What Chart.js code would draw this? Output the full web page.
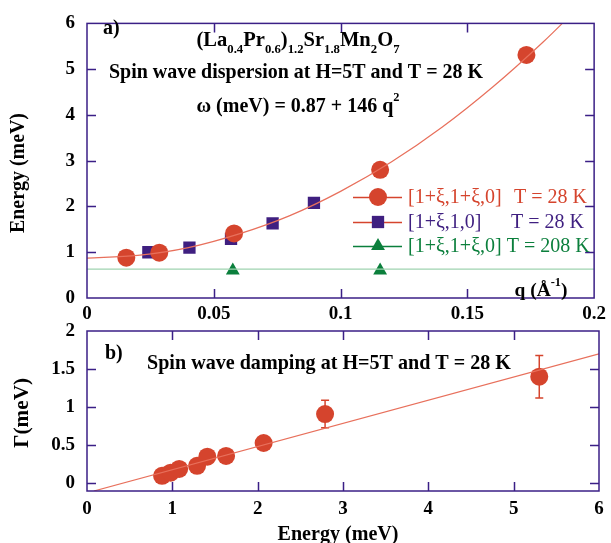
<!DOCTYPE html>
<html>
<head>
<meta charset="utf-8">
<script src="https://cdn.jsdelivr.net/npm/chart.js@4.4.1/dist/chart.umd.min.js"></script>
<style>
  html, body { margin: 0; padding: 0; background: #fff; }
  #wrap { position: relative; width: 611px; height: 543px; }
  canvas { position: absolute; left: 0; top: 0; }
</style>
</head>
<body>
<div id="wrap">
  <canvas id="damping" width="611" height="543" style="width:611px;height:543px"></canvas>
  <canvas id="dispersion" width="611" height="543" style="width:611px;height:543px"></canvas>
</div>
<script>
// panel a) dispersion
const qTicks = [0, 0.05, 0.1, 0.15, 0.2]
const qTickLabels = ['0', '0.05', '0.1', '0.15', '0.2']
const eTicks = [0, 1, 2, 3, 4, 5, 6]

const qDiag28 = [0.0155, 0.0285, 0.058, 0.1156, 0.1733]
const eDiag28 = [0.88, 0.99, 1.41, 2.80, 5.31]
const qAxis28 = [0.0242, 0.0404, 0.0568, 0.0732, 0.0895]
const eAxis28 = [1.00, 1.10, 1.29, 1.63, 2.08]
const qDiag208 = [0.0575, 0.1156]
const eDiag208 = [0.60, 0.60]

// fit curve
const qFit = [0, 0.02, 0.04, 0.06, 0.08, 0.10, 0.12, 0.14, 0.16, 0.18, 0.19]
const eFit = [0.87, 0.93, 1.10, 1.40, 1.80, 2.33, 2.97, 3.73, 4.61, 5.60, 6.14]
const qFlat = [0, 0.2]
const eFlat = [0.63, 0.63]

// panel b) damping
const enTicks = [0, 1, 2, 3, 4, 5, 6]
const gTicks = [0, 0.5, 1, 1.5, 2]
const energy = [0.88, 0.98, 1.08, 1.29, 1.41, 1.63, 2.07, 2.79, 5.30]
const gamma = [0.10, 0.14, 0.19, 0.23, 0.35, 0.36, 0.53, 0.91, 1.40]
const gammaLo = [null, null, null, null, null, null, null, 0.73, 1.12]
const gammaHi = [null, null, null, null, null, null, null, 1.09, 1.68]
const lineE = [0.08, 6]
const lineG = [-0.1, 1.70]

const red = '#d5442d'
const purple = '#3f1f80'
const green = '#0b7f3c'
const axisColor = '#3b1f86'
const serif = "'Liberation Serif', 'DejaVu Serif', serif"

const pts = (xs, ys) => xs.map((x, i) => ({ x, y: ys[i] }))

function fixedTicks(values) {
    return scale => { scale.ticks = values.map(v => ({ value: v })) }
}

const framePlugin = {
    id: 'frame',
    afterDraw(chart) {
        const { ctx, chartArea: a, scales: { x, y } } = chart
        ctx.save()
        ctx.strokeStyle = axisColor
        ctx.lineWidth = 1.5
        ctx.strokeRect(a.left, a.top, a.right - a.left, a.bottom - a.top)
        ctx.beginPath()
        x.ticks.forEach(t => {
            const px = Math.round(x.getPixelForValue(t.value)) + 0.5
            if (px < a.left + 2 || px > a.right - 2) return
            ctx.moveTo(px, a.bottom); ctx.lineTo(px, a.bottom - 9)
            ctx.moveTo(px, a.top); ctx.lineTo(px, a.top + 9)
        })
        y.ticks.forEach(t => {
            const py = Math.round(y.getPixelForValue(t.value)) + 0.5
            if (py < a.top + 2 || py > a.bottom - 2) return
            ctx.moveTo(a.left, py); ctx.lineTo(a.left + 9, py)
            ctx.moveTo(a.right, py); ctx.lineTo(a.right - 9, py)
        })
        ctx.stroke()
        ctx.restore()
    }
}

// text made of normal / sub / sup parts, centred on cx, squeezed to width w
function richText(ctx, parts, cx, cy, size, w) {
    const fontFor = k => 'bold ' + (k === 'n' ? size : Math.round(size * 0.62)) + 'px ' + serif
    let total = 0
    parts.forEach(([s, k]) => { ctx.font = fontFor(k); total += ctx.measureText(s).width })
    const k = w ? w / total : 1
    ctx.save()
    ctx.translate(cx, cy)
    ctx.scale(k, 1)
    let x = -total / 2
    parts.forEach(([s, kind]) => {
        ctx.font = fontFor(kind)
        const dy = kind === 'sub' ? size * 0.4 : kind === 'sup' ? -size * 0.45 : 0
        ctx.fillText(s, x, dy)
        x += ctx.measureText(s).width
    })
    ctx.restore()
}

function marker(ctx, style, x, y, r, color) {
    ctx.fillStyle = color
    ctx.beginPath()
    if (style === 'circle') {
        ctx.arc(x, y, r, 0, Math.PI * 2)
    } else if (style === 'rect') {
        const s = r * Math.SQRT1_2
        ctx.rect(x - s, y - s, 2 * s, 2 * s)
    } else {
        ctx.moveTo(x, y - r)
        ctx.lineTo(x + r * 0.866, y + r * 0.5)
        ctx.lineTo(x - r * 0.866, y + r * 0.5)
        ctx.closePath()
    }
    ctx.fill()
}

const dispersionText = {
    id: 'dispersionText',
    afterDraw(chart) {
        const ctx = chart.ctx
        ctx.save()
        ctx.fillStyle = '#000'
        ctx.textBaseline = 'middle'
        ctx.textAlign = 'left'
        ctx.font = 'bold 20px ' + serif
        ctx.fillText('a)', 103, 29)
        richText(ctx, [['(La', 'n'], ['0.4', 'sub'], ['Pr', 'n'], ['0.6', 'sub'], [')', 'n'], ['1.2', 'sub'],
            ['Sr', 'n'], ['1.8', 'sub'], ['Mn', 'n'], ['2', 'sub'], ['O', 'n'], ['7', 'sub']], 298, 41, 21, 203)
        richText(ctx, [['Spin wave dispersion at H=5T and T = 28 K', 'n']], 296, 73, 21, 374)
        richText(ctx, [['\u03c9 (meV) = 0.87 + 146 q', 'n'], ['2', 'sup']], 298, 107, 21, 203)
        richText(ctx, [['q (\u00c5', 'n'], ['-1', 'sup'], [')', 'n']], 541, 291, 19, 53)

        // y axis title
        ctx.save()
        ctx.translate(19, 173)
        ctx.rotate(-Math.PI / 2)
        richText(ctx, [['Energy (meV)', 'n']], 0, 0, 20, 120)
        ctx.restore()

        // legend
        const rows = [
            { style: 'circle', color: red, line: red, y: 197, a: '[1+\u03be,1+\u03be,0]', b: 'T = 28 K', bx: 514, r: 9 },
            { style: 'rect', color: purple, line: red, y: 222, a: '[1+\u03be,1,0]', b: 'T = 28 K', bx: 511, r: 8.7 },
            { style: 'triangle', color: green, line: green, y: 246, a: '[1+\u03be,1+\u03be,0]', b: 'T = 208 K', bx: null, r: 8 }
        ]
        ctx.font = '20px ' + serif
        ctx.textAlign = 'left'
        rows.forEach(row => {
            ctx.strokeStyle = row.line
            ctx.lineWidth = 1.3
            ctx.beginPath()
            ctx.moveTo(353, row.y + 0.5); ctx.lineTo(402, row.y + 0.5)
            ctx.stroke()
            marker(ctx, row.style, 378, row.y, row.r, row.color)
            ctx.fillStyle = row.color
            ctx.fillText(row.a, 408, row.y + 1)
            const bx = row.bx === null ? 408 + ctx.measureText(row.a + ' ').width : row.bx
            ctx.fillText(row.b, bx, row.y + 1)
        })
        ctx.restore()
    }
}

const errorBars = {
    id: 'errorBars',
    beforeDatasetsDraw(chart) {
        const { ctx, scales: { x, y } } = chart
        ctx.save()
        ctx.strokeStyle = red
        ctx.lineWidth = 1.5
        ctx.beginPath()
        energy.forEach((e, i) => {
            if (gammaLo[i] === null) return
            const px = x.getPixelForValue(e)
            const lo = y.getPixelForValue(gammaLo[i])
            const hi = y.getPixelForValue(gammaHi[i])
            ctx.moveTo(px, lo); ctx.lineTo(px, hi)
            ctx.moveTo(px - 4, lo); ctx.lineTo(px + 4, lo)
            ctx.moveTo(px - 4, hi); ctx.lineTo(px + 4, hi)
        })
        ctx.stroke()
        ctx.restore()
    }
}

const dampingText = {
    id: 'dampingText',
    afterDraw(chart) {
        const ctx = chart.ctx
        ctx.save()
        ctx.fillStyle = '#000'
        ctx.textBaseline = 'middle'
        ctx.textAlign = 'left'
        ctx.font = 'bold 20px ' + serif
        ctx.fillText('b)', 105, 354)
        richText(ctx, [['Spin wave damping at H=5T and T = 28 K', 'n']], 329, 364, 21, 364)
        richText(ctx, [['Energy (meV)', 'n']], 338, 535, 20, 121)
        ctx.translate(23, 413)
        ctx.rotate(-Math.PI / 2)
        richText(ctx, [['\u0393(meV)', 'n']], 0, 0, 20, 70)
        ctx.restore()
    }
}

const tickFont = { family: serif, size: 19, weight: 'bold' }
const hiddenGrid = { display: false, drawTicks: false }

new Chart(document.getElementById('dispersion'), {
    type: 'scatter',
    data: {
        datasets: [
            { data: pts(qFlat, eFlat), showLine: true, borderColor: '#9fd3b0', borderWidth: 1.2, pointRadius: 0 },
            { data: pts(qFit, eFit), showLine: true, borderColor: '#e8705c', borderWidth: 1.2, pointRadius: 0, tension: 0.4, cubicInterpolationMode: 'monotone' },
            { data: pts(qDiag28, eDiag28), pointStyle: 'circle', pointRadius: 9, backgroundColor: red, borderWidth: 0 },
            { data: pts(qAxis28, eAxis28), pointStyle: 'rect', pointRadius: 8.7, backgroundColor: purple, borderWidth: 0 },
            { data: pts(qDiag208, eDiag208), pointStyle: 'triangle', pointRadius: 8, backgroundColor: green, borderWidth: 0 }
        ]
    },
    options: {
        responsive: false,
        animation: false,
        layout: { padding: { left: 0, right: 12, top: 17, bottom: 215 } },
        plugins: { legend: { display: false }, tooltip: { enabled: false } },
        scales: {
            x: {
                type: 'linear', min: 0, max: 0.2,
                afterBuildTicks: fixedTicks(qTicks),
                afterFit: s => { s.height = 30 },
                grid: hiddenGrid, border: { display: false },
                ticks: { color: '#000', font: tickFont, padding: 5, maxRotation: 0, autoSkip: false,
                    callback: (v, i) => qTickLabels[i] }
            },
            y: {
                type: 'linear', min: 0, max: 6,
                afterBuildTicks: fixedTicks(eTicks),
                afterFit: s => { s.width = 87 },
                grid: hiddenGrid, border: { display: false },
                ticks: { color: '#000', font: tickFont, padding: 12, callback: v => String(v) }
            }
        }
    },
    plugins: [framePlugin, dispersionText]
})

new Chart(document.getElementById('damping'), {
    type: 'scatter',
    data: {
        datasets: [
            { data: pts(lineE, lineG), showLine: true, borderColor: '#e8705c', borderWidth: 1.2, pointRadius: 0 },
            { data: pts(energy, gamma), pointStyle: 'circle', pointRadius: 9, backgroundColor: red, borderWidth: 0 }
        ]
    },
    options: {
        responsive: false,
        animation: false,
        layout: { padding: { left: 0, right: 12, top: 331, bottom: 0 } },
        plugins: { legend: { display: false }, tooltip: { enabled: false } },
        scales: {
            x: {
                type: 'linear', min: 0, max: 6,
                afterBuildTicks: fixedTicks(enTicks),
                afterFit: s => { s.height = 52 },
                grid: hiddenGrid, border: { display: false },
                ticks: { color: '#000', font: tickFont, padding: 7, maxRotation: 0, autoSkip: false,
                    callback: v => String(v) }
            },
            y: {
                type: 'linear', min: -0.1, max: 2,
                afterBuildTicks: fixedTicks(gTicks),
                afterFit: s => { s.width = 87 },
                grid: hiddenGrid, border: { display: false },
                ticks: { color: '#000', font: tickFont, padding: 12, callback: v => String(v) }
            }
        }
    },
    plugins: [framePlugin, errorBars, dampingText]
})
</script>
</body>
</html>
